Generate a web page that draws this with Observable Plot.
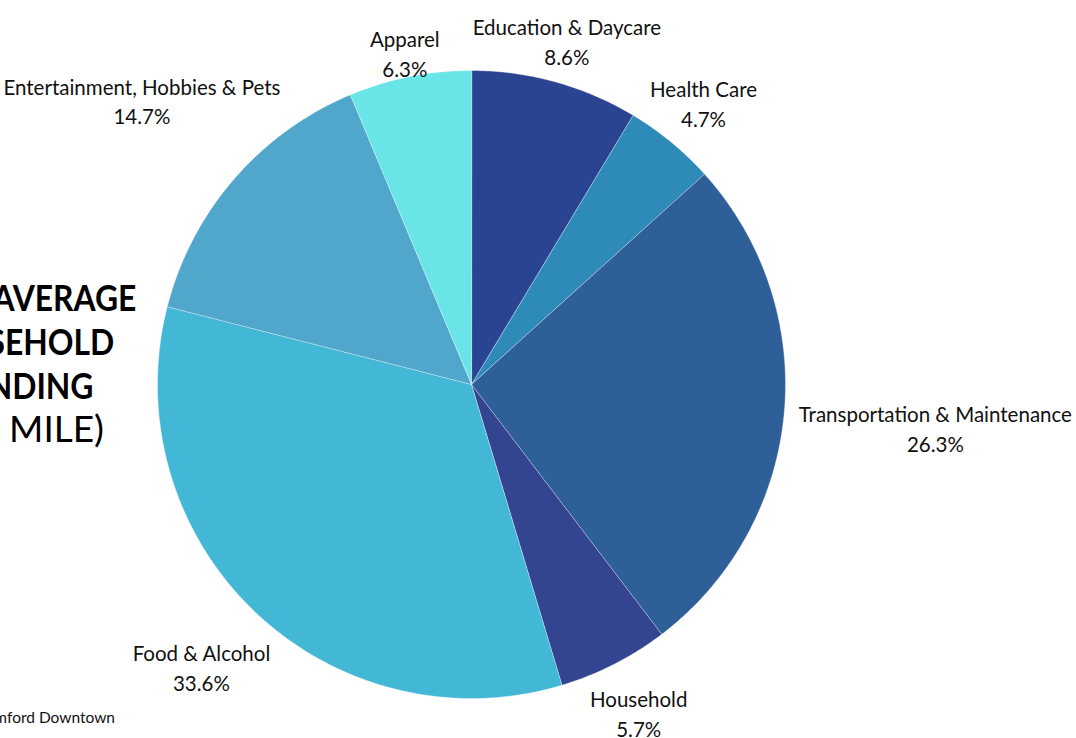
<!DOCTYPE html>
<html>
<head>
<meta charset="utf-8">
<script src="https://cdn.jsdelivr.net/npm/d3@7"></script>
<script src="https://cdn.jsdelivr.net/npm/@observablehq/plot@0.6"></script>
<style>
  html, body { margin: 0; padding: 0; background: #fff; overflow: hidden; }
  #wrap { position: relative; width: 1076px; height: 738px; font-family: Lato, "Open Sans", sans-serif; }
  #chart { position: absolute; left: 0; top: 0; }
  .tl { position: absolute; white-space: nowrap; font-size: 37px; line-height: 44px; color: #000; z-index: 2; text-align: right; transform-origin: right center; }
  .b { font-weight: 700; transform: scaleX(0.86); }
  .cap { position: absolute; white-space: nowrap; font-size: 15.5px; color: #111; text-align: right; z-index: 2; }
</style>
</head>
<body>
<div id="wrap">
  <div id="chart"></div>
  <div class="tl b" style="right:940px; top:275px;">AVERAGE</div>
  <div class="tl b" style="right:962px; top:319px;">HOUSEHOLD</div>
  <div class="tl b" style="right:983px; top:363px;">SPENDING</div>
  <div class="tl" style="right:972px; top:406px;">(1 MILE)</div>
  <div class="cap" style="right:961px; top:708px;">Source: Stamford Downtown</div>
</div>
<script>
const categories = ["Education & Daycare", "Health Care", "Transportation & Maintenance", "Household", "Food & Alcohol", "Entertainment, Hobbies & Pets", "Apparel"];
const shares = [8.6, 4.7, 26.3, 5.7, 33.6, 14.7, 6.3];
const colors = ["#2b4491", "#2e8bb9", "#2e5f98", "#334490", "#42b7d6", "#50a7cb", "#69e5e8"];

const W = 1076, H = 738;
const cx = 471, cy = 384, r = 314;
const fontSize = 20.5;
const labelFont = `${fontSize}px Lato, "Open Sans", sans-serif`;

const pie = d3.pie().sort(null).value(d => d.value)(
  categories.map((c, i) => ({name: c, value: shares[i], color: colors[i]}))
);

// slice outlines
const pts = [];
pie.forEach(s => {
  const n = Math.max(4, Math.ceil((s.endAngle - s.startAngle) / 0.01));
  pts.push({k: s.data.name, color: s.data.color, x: 0, y: 0});
  for (let j = 0; j <= n; j++) {
    const a = s.startAngle + (s.endAngle - s.startAngle) * j / n;
    pts.push({k: s.data.name, color: s.data.color, x: Math.sin(a), y: Math.cos(a)});
  }
});

// labels: placed outside each slice's mid-angle, pushed out by half the text width
const ctx = document.createElement("canvas").getContext("2d");
ctx.font = labelFont;
const labels = pie.map(s => {
  const a = (s.startAngle + s.endAngle) / 2;
  const w = ctx.measureText(s.data.name).width;
  const R = (328 + (w / 2) * Math.abs(Math.sin(a)) + 12 * Math.abs(Math.cos(a)) - 8 * Math.cos(a)) / r;
  return {text: `${s.data.name}\n${s.data.value.toFixed(1)}%`, x: R * Math.sin(a), y: R * Math.cos(a)};
});

const plot = Plot.plot({
  width: W,
  height: H,
  marginLeft: cx - r,
  marginRight: W - (cx + r),
  marginTop: cy - r,
  marginBottom: H - (cy + r),
  x: {domain: [-1, 1], axis: null},
  y: {domain: [-1, 1], axis: null},
  style: {fontFamily: 'Lato, "Open Sans", sans-serif', overflow: "visible"},
  marks: [
    Plot.line(pts, {x: "x", y: "y", z: "k", fill: "color", stroke: "#ffffff", strokeWidth: 0.6, strokeOpacity: 0.6, curve: "linear-closed"}),
    Plot.text(labels, {x: "x", y: "y", text: "text", fontSize: fontSize, lineHeight: 1.45, fill: "#111", lineAnchor: "middle", textAnchor: "middle"})
  ]
});
document.getElementById("chart").appendChild(plot);
</script>
</body>
</html>
